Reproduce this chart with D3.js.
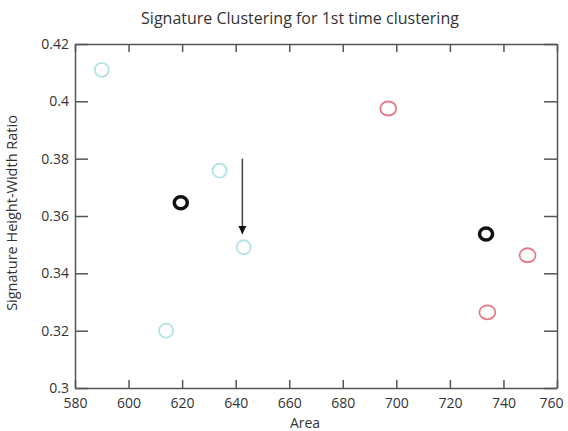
<!DOCTYPE html>
<html>
<head>
<meta charset="utf-8">
<script src="https://cdn.jsdelivr.net/npm/d3@7"></script>
<style>
  body { margin: 0; background: #fff; }
  text { font-family: "Open Sans", sans-serif; fill: #333; }
</style>
</head>
<body>
<div id="chart"></div>
<script>
// cluster 1 (light blue) and cluster 2 (red) members, plus centroids
const cyanArea = [590, 634, 643, 614];
const cyanRatio = [0.411, 0.3758, 0.3491, 0.32];
const redArea = [697, 749, 734];
const redRatio = [0.3975, 0.3463, 0.3264];
const centroidArea = [619.5, 733.5];
const centroidRatio = [0.3646, 0.3537];
// arrow: from (x, y0) to (x, y1)
const arrowArea = 642.5;
const arrowFrom = 0.38;
const arrowTo = 0.3537;

const xTicks = [580, 600, 620, 640, 660, 680, 700, 720, 740, 760];
const yTicks = [0.3, 0.32, 0.34, 0.36, 0.38, 0.4, 0.42];

const W = 568, H = 431;
const margin = {top: 44, right: 11, bottom: 43, left: 75},
    width = W - margin.left - margin.right,
    height = H - margin.top - margin.bottom;

const svg = d3.select("#chart").append("svg")
    .attr("width", W)
    .attr("height", H);

const defs = svg.append("defs");
defs.append("marker")
    .attr("id", "head")
    .attr("viewBox", "0 0 10 10")
    .attr("refX", 10).attr("refY", 5)
    .attr("markerWidth", 8).attr("markerHeight", 9)
    .attr("markerUnits", "userSpaceOnUse")
    .attr("orient", "auto")
  .append("path")
    .attr("d", "M0,0 L10,5 L0,10 z")
    .attr("fill", "#111");

const g = svg.append("g")
    .attr("transform", `translate(${margin.left},${margin.top})`);

const x = d3.scaleLinear().domain([580, 760]).range([0, width]);
const y = d3.scaleLinear().domain([0.3, 0.42]).range([height, 0]);

// frame with inward ticks (MATLAB style)
const fmt = d => d3.format("~g")(+d.toFixed(2));
const xAxis = g.append("g")
    .attr("transform", `translate(0,${height})`)
    .call(d3.axisBottom(x).tickValues(xTicks).tickSizeInner(-8).tickSizeOuter(0).tickPadding(10).tickFormat(fmt));
// keep the last label inside the page
xAxis.selectAll(".tick text").filter(d => d === 760).attr("dx", -6);
g.append("g")
    .call(d3.axisTop(x).tickValues(xTicks).tickSizeInner(-8).tickSizeOuter(0).tickFormat(""));
g.append("g")
    .call(d3.axisLeft(y).tickValues(yTicks).tickSizeInner(-13).tickSizeOuter(0).tickPadding(6).tickFormat(fmt));
g.append("g")
    .attr("transform", `translate(${width},0)`)
    .call(d3.axisRight(y).tickValues(yTicks).tickSizeInner(-13).tickSizeOuter(0).tickFormat(""));

g.selectAll(".domain").attr("stroke", "#555").attr("stroke-width", 1.5);
g.selectAll(".tick line").attr("stroke", "#555").attr("stroke-width", 1.5);
g.selectAll(".tick text")
    .style("font-family", "'Open Sans', sans-serif")
    .style("font-size", "14px")
    .attr("fill", "#2a2a2a");

// data points
g.selectAll(".cyan").data(cyanArea).join("ellipse")
    .attr("cx", d => x(d))
    .attr("cy", (d, i) => y(cyanRatio[i]))
    .attr("rx", 7).attr("ry", 7)
    .attr("fill", "none")
    .attr("stroke", "#b5e2e6")
    .attr("stroke-width", 1.8);

g.selectAll(".red").data(redArea).join("ellipse")
    .attr("cx", d => x(d))
    .attr("cy", (d, i) => y(redRatio[i]))
    .attr("rx", 8).attr("ry", 7)
    .attr("fill", "none")
    .attr("stroke", "#e57b8a")
    .attr("stroke-width", 1.8);

g.selectAll(".centroid").data(centroidArea).join("ellipse")
    .attr("cx", d => x(d))
    .attr("cy", (d, i) => y(centroidRatio[i]))
    .attr("rx", 6.5).attr("ry", 6)
    .attr("fill", "none")
    .attr("stroke", "#111")
    .attr("stroke-width", 3.5);

// arrow showing centroid move
g.append("line")
    .attr("x1", x(arrowArea)).attr("x2", x(arrowArea))
    .attr("y1", y(arrowFrom)).attr("y2", y(arrowTo))
    .attr("stroke", "#444")
    .attr("stroke-width", 1.5)
    .attr("marker-end", "url(#head)");

// titles
svg.append("text")
    .attr("x", 300).attr("y", 24)
    .attr("text-anchor", "middle")
    .style("font-size", "16px")
    .text("Signature Clustering for 1st time clustering");

svg.append("text")
    .attr("x", 305).attr("y", 428)
    .attr("text-anchor", "middle")
    .style("font-size", "14px")
    .text("Area");

svg.append("text")
    .attr("transform", `translate(17,213) rotate(-90)`)
    .attr("text-anchor", "middle")
    .style("font-size", "14.5px")
    .text("Signature Height-Width Ratio");
</script>
</body>
</html>
